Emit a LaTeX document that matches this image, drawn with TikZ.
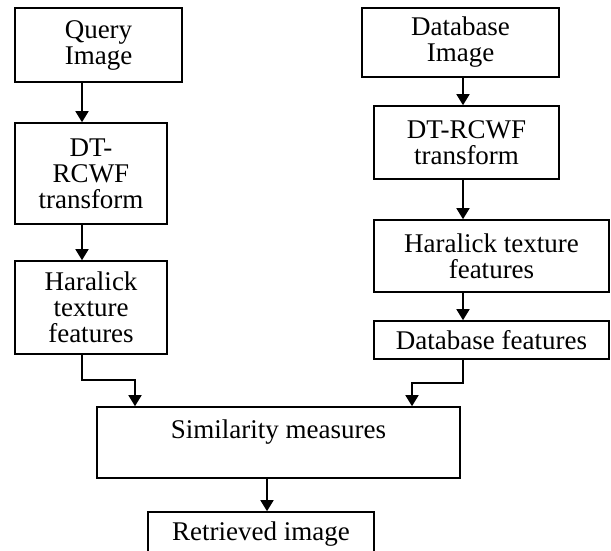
\documentclass[tikz,border=0pt]{standalone}
\usepackage{fontspec}
\setmainfont{Liberation Serif}
\usetikzlibrary{positioning, arrows.meta, calc}

\begin{document}
\begin{tikzpicture}[
    x=0.5pt, y=-0.5pt,
    box/.style={draw, line width=0.8pt, align=center, inner sep=0pt, font=\fontsize{13.5}{13}\selectfont},
    arrow/.style={-{Triangle[length=5.5pt, width=6.5pt]}, line width=0.8pt}
  ]
    \clip (0,0) rectangle (611,551);

    % Query side
    \node[box, minimum width=83.5pt, minimum height=37pt] (query) at (98.5,45) {Query\\Image};
    \node[box, minimum width=76pt, minimum height=50.5pt] (dtq) at (91,173.5) {DT-\\RCWF\\transform};
    \node[box, minimum width=76pt, minimum height=46.5pt] (harq) at (91,307.5) {Haralick\\texture\\features};

    % Database side
    \node[box, minimum width=98.5pt, minimum height=34.5pt] (dbimg) at (460.5,42.5) {Database\\Image};
    \node[box, minimum width=92.5pt, minimum height=36.5pt] (dtd) at (466.5,142.5) {DT-RCWF\\transform};
    \node[box, minimum width=117.5pt, minimum height=36pt] (hard) at (491.5,256) {Haralick texture\\features};
    \node[box, minimum width=117.5pt, minimum height=19pt] (dbfeat) at (491.5,340) {Database features};

    % Matching
    \node[box, minimum width=181.5pt, minimum height=35.5pt] (sim) at (278.5,442.5) {Similarity measures\\ \mbox{}};
    \node[box, minimum width=113pt, minimum height=22pt] (ret) at (261,534) {Retrieved image};

    % Arrow columns and bends
    \coordinate (lx) at (82,0);
    \coordinate (rx) at (463,0);
    \coordinate (cx) at (267,0);
    \coordinate (sl) at (135,380);
    \coordinate (sr) at (412,383);

    % Arrows
    \draw[arrow] (query.south -| lx) -- (dtq.north -| lx);
    \draw[arrow] (dtq.south -| lx) -- (harq.north -| lx);
    \draw[arrow] (dbimg.south -| rx) -- (dtd.north -| rx);
    \draw[arrow] (dtd.south -| rx) -- (hard.north -| rx);
    \draw[arrow] (hard.south -| rx) -- (dbfeat.north -| rx);
    \draw[arrow] (harq.south -| lx) |- (sl) -- (sim.north -| sl);
    \draw[arrow] (dbfeat.south -| rx) |- (sr) -- (sim.north -| sr);
    \draw[arrow] (sim.south -| cx) -- (ret.north -| cx);
\end{tikzpicture}
\end{document}
